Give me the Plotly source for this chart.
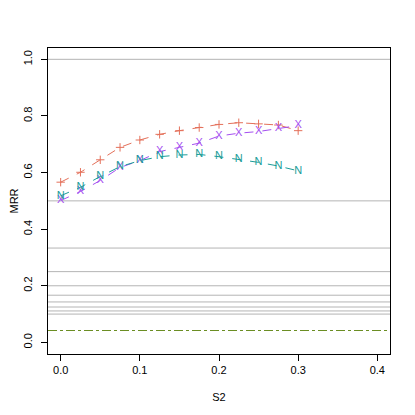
import plotly.graph_objects as go

s2 = [0.0, 0.025, 0.05, 0.075, 0.1, 0.125, 0.15, 0.175, 0.2, 0.225, 0.25, 0.275, 0.3]
mrr_plus = [0.566, 0.601, 0.645, 0.689, 0.715, 0.735, 0.748, 0.759, 0.770, 0.776, 0.772, 0.768, 0.748]
mrr_x = [0.501, 0.533, 0.572, 0.618, 0.642, 0.674, 0.689, 0.704, 0.729, 0.739, 0.745, 0.756, 0.766]
mrr_n = [0.518, 0.548, 0.586, 0.621, 0.642, 0.656, 0.662, 0.664, 0.656, 0.647, 0.636, 0.623, 0.606]
ref_levels = [1.0, 0.5, 0.3333, 0.25, 0.2, 0.1667, 0.1429, 0.125, 0.1111, 0.1]
baseline = 0.042
xticks = [0.0, 0.1, 0.2, 0.3, 0.4]
yticks = [0.0, 0.2, 0.4, 0.6, 0.8, 1.0]

RED = "#E4705A"
PURPLE = "#A44EF0"
TEAL = "#1A9C98"
OLIVE = "#6B8E23"
FONT = "Liberation Sans, Arial, sans-serif"

fig = go.Figure()

shapes = []
for v in ref_levels:
    shapes.append(dict(type="line", xref="paper", yref="y", x0=0, x1=1, y0=v, y1=v,
                       line=dict(color="#b4b4b4", width=1), layer="below"))
shapes.append(dict(type="line", xref="paper", yref="y", x0=0, x1=1, y0=baseline, y1=baseline,
                   line=dict(color=OLIVE, width=1, dash="dashdot"), layer="below"))

fig.add_trace(go.Scatter(x=s2, y=mrr_plus, mode="lines+markers",
                         line=dict(color=RED, width=1, dash="dash"),
                         marker=dict(symbol="cross-thin", size=6, line=dict(color=RED, width=1), color=RED),
                         showlegend=False))
fig.add_trace(go.Scatter(x=s2, y=mrr_x, mode="lines+text", text=["X"] * len(s2),
                         textposition="middle center",
                         textfont=dict(color=PURPLE, size=11, family=FONT),
                         line=dict(color=PURPLE, width=1, dash="dash"), showlegend=False))
fig.add_trace(go.Scatter(x=s2, y=mrr_n, mode="lines+text", text=["N"] * len(s2),
                         textposition="middle center",
                         textfont=dict(color=TEAL, size=11, family=FONT),
                         line=dict(color=TEAL, width=1, dash="dash"), showlegend=False))

fig.update_layout(
    width=407, height=407,
    margin=dict(l=40, r=25, t=40, b=61),
    paper_bgcolor="white", plot_bgcolor="white",
    font=dict(family=FONT, size=11, color="black"),
    shapes=shapes,
    xaxis=dict(range=[-0.016, 0.416], tickvals=xticks, ticktext=["0.0", "0.1", "0.2", "0.3", "0.4"],
               ticks="outside", ticklen=6, tickcolor="black", showgrid=False, zeroline=False,
               showline=True, mirror=True, linecolor="black", linewidth=1, automargin=False,
               title=dict(text="S2", standoff=18, font=dict(size=11))),
    yaxis=dict(range=[-0.041, 1.04], tickvals=yticks, ticktext=["0.0", "0.2", "0.4", "0.6", "0.8", "1.0"],
               tickangle=-90, ticks="outside", ticklen=6, tickcolor="black", showgrid=False, zeroline=False,
               showline=True, mirror=True, linecolor="black", linewidth=1, ticklabelstandoff=5,
               automargin=False,
               title=dict(text="MRR", standoff=12, font=dict(size=11))),
)

fig.write_html("out.html")
